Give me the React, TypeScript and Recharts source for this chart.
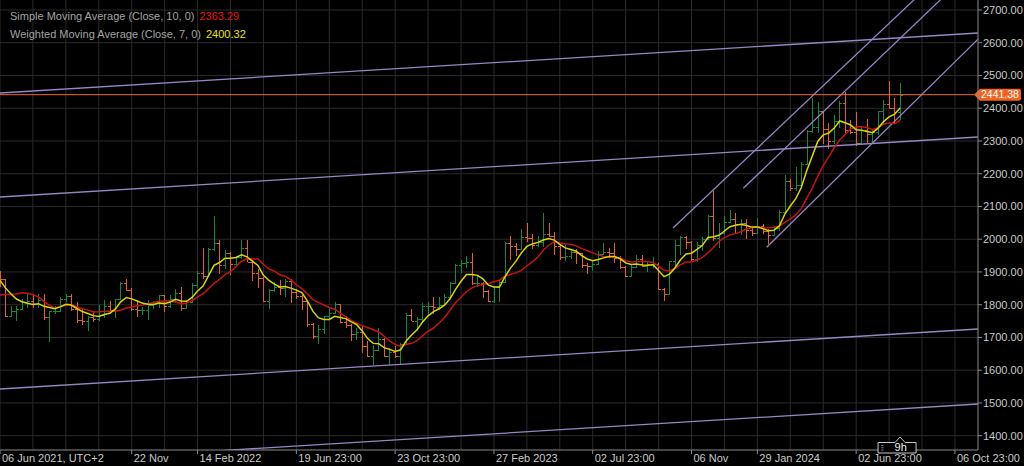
import React from "react";
import { ComposedChart, Bar, Line, XAxis, YAxis, CartesianGrid, ReferenceLine } from "recharts";

const FONT = "'Liberation Sans', Arial, sans-serif";

// Weekly XAU bars, week 0 = week of 06 Jun 2021
const priorCloses = [1744, 1777, 1777, 1769, 1831, 1843, 1881, 1902, 1892];

const open = [
  1892, 1877, 1764, 1781, 1787, 1808, 1812, 1802, 1814, 1763,
  1780, 1781, 1817, 1827, 1788, 1754, 1750, 1761, 1757, 1768,
  1796, 1783, 1818, 1865, 1846, 1788, 1783, 1783, 1798, 1809,
  1829, 1797, 1817, 1835, 1791, 1807, 1859, 1898, 1889, 1970,
  1989, 1921, 1958, 1925, 1946, 1974, 1931, 1896, 1883, 1811,
  1846, 1853, 1851, 1871, 1840, 1827, 1811, 1742, 1703, 1727,
  1766, 1775, 1802, 1747, 1738, 1712, 1717, 1675, 1644, 1661,
  1695, 1644, 1657, 1644, 1681, 1769, 1751, 1755, 1797, 1797,
  1793, 1798, 1824, 1865, 1920, 1926, 1929, 1865, 1865, 1842,
  1811, 1856, 1868, 1989, 1978, 1969, 2007, 2004, 1983, 1990,
  2017, 2011, 1978, 1946, 1948, 1961, 1958, 1921, 1919, 1925,
  1955, 1962, 1959, 1942, 1914, 1889, 1915, 1940, 1919, 1924,
  1925, 1849, 1833, 1932, 1981, 2006, 1993, 1940, 1981, 2002,
  2072, 2004, 2019, 2053, 2062, 2045, 2049, 2029, 2018, 2039,
  2024, 2013, 2035, 2083, 2179, 2155, 2165, 2230, 2330, 2344,
  2392, 2337, 2301, 2360, 2415, 2333, 2327, 2294, 2332.15, 2322,
  2326, 2391, 2411.85, 2400, 2387.5,
];

const high = [
  1903, 1877, 1795, 1795, 1818, 1834, 1833, 1832, 1832, 1782,
  1795, 1823, 1834, 1834, 1809, 1787, 1764, 1781, 1800, 1813,
  1810, 1818, 1869, 1877, 1850, 1808, 1794, 1815, 1812, 1831,
  1831, 1829, 1848, 1853, 1815, 1865, 1902, 1974, 1974, 2070,
  1999, 1966, 1960, 1949, 1998, 1998, 1936, 1910, 1884, 1849,
  1870, 1874, 1877, 1879, 1847, 1830, 1814, 1744, 1739, 1767,
  1788, 1807, 1802, 1765, 1740, 1729, 1735, 1688, 1676, 1730,
  1697, 1669, 1675, 1684, 1774, 1786, 1762, 1804, 1809, 1825,
  1823, 1833, 1870, 1923, 1937, 1949, 1959, 1890, 1870, 1846,
  1858, 1871, 1993, 2009, 1987, 2032, 2049, 2015, 2009, 2079,
  2048, 2022, 1985, 1983, 1971, 1971, 1959, 1926, 1935, 1963,
  1987, 1973, 1987, 1949, 1917, 1923, 1953, 1953, 1932, 1947,
  1926, 1850, 1933, 1997, 2009, 2009, 1995, 1993, 2007, 2075,
  2146, 2048, 2071, 2088, 2079, 2062, 2062, 2036, 2065, 2045,
  2030, 2041, 2088, 2195, 2185, 2222, 2236, 2332, 2431, 2418,
  2392, 2354, 2378, 2422, 2450, 2364, 2388, 2342, 2368, 2338,
  2392, 2424, 2484, 2432, 2477,
];

const low = [
  1855, 1761, 1761, 1750, 1783, 1791, 1789, 1791, 1753, 1687,
  1772, 1778, 1808, 1782, 1745, 1737, 1721, 1746, 1750, 1760,
  1772, 1758, 1815, 1842, 1780, 1761, 1768, 1753, 1788, 1789,
  1778, 1791, 1805, 1780, 1788, 1806, 1851, 1878, 1889, 1965,
  1895, 1910, 1890, 1915, 1940, 1929, 1872, 1850, 1807, 1787,
  1840, 1829, 1825, 1805, 1817, 1785, 1732, 1695, 1681, 1711,
  1754, 1772, 1745, 1728, 1688, 1691, 1654, 1639, 1615, 1660,
  1640, 1617, 1638, 1616, 1676, 1749, 1727, 1745, 1765, 1773,
  1785, 1795, 1823, 1862, 1896, 1912, 1861, 1853, 1819, 1809,
  1805, 1809, 1865, 1935, 1949, 1966, 1992, 1969, 1975, 1977,
  2007, 1952, 1936, 1932, 1940, 1925, 1911, 1893, 1902, 1922,
  1953, 1942, 1928, 1910, 1885, 1884, 1913, 1914, 1901, 1913,
  1846, 1810, 1831, 1909, 1953, 1971, 1932, 1931, 1965, 1999,
  1995, 1973, 2016, 2050, 2017, 2013, 2001, 2010, 2017, 2015,
  1984, 2011, 2025, 2078, 2146, 2146, 2163, 2228, 2325, 2324,
  2291, 2277, 2291, 2340, 2325, 2321, 2286, 2293, 2295, 2293,
  2318, 2352, 2398, 2353, 2365,
];

const close = [
  1877, 1764, 1781, 1787, 1808, 1812, 1802, 1814, 1763, 1780,
  1781, 1817, 1827, 1788, 1754, 1750, 1761, 1757, 1768, 1796,
  1783, 1818, 1865, 1846, 1788, 1783, 1783, 1798, 1809, 1829,
  1797, 1817, 1835, 1791, 1807, 1859, 1898, 1889, 1970, 1989,
  1921, 1958, 1925, 1946, 1974, 1931, 1896, 1883, 1811, 1846,
  1853, 1851, 1871, 1840, 1827, 1811, 1742, 1703, 1727, 1766,
  1775, 1802, 1747, 1738, 1712, 1717, 1675, 1644, 1661, 1695,
  1644, 1657, 1644, 1681, 1769, 1751, 1755, 1797, 1797, 1793,
  1798, 1824, 1865, 1920, 1926, 1929, 1865, 1865, 1842, 1811,
  1856, 1868, 1989, 1978, 1969, 2007, 2004, 1983, 1990, 2017,
  2011, 1978, 1946, 1948, 1961, 1958, 1921, 1919, 1925, 1955,
  1962, 1959, 1942, 1914, 1889, 1915, 1940, 1919, 1924, 1925,
  1849, 1833, 1932, 1981, 2006, 1993, 1940, 1981, 2002, 2072,
  2004, 2019, 2053, 2062, 2045, 2049, 2029, 2018, 2039, 2024,
  2013, 2035, 2083, 2179, 2155, 2165, 2230, 2330, 2344, 2392,
  2337, 2301, 2360, 2415, 2333, 2327, 2294, 2332.15, 2322, 2326,
  2391, 2411.85, 2400, 2387.5, 2441.38,
];

const xTickWeeks = [0, 24, 36, 54, 72, 90, 108, 126, 138, 156, 174];
const xTickLabels = [
  "06 Jun 2021, UTC+2", "22 Nov", "14 Feb 2022", "19 Jun 23:00", "23 Oct 23:00",
  "27 Feb 2023", "02 Jul 23:00", "06 Nov", "29 Jan 2024", "02 Jun 23:00", "06 Oct 23:00",
];
const gridWeeks = [0, 6, 12, 18, 24, 30, 36, 42, 48, 54, 60, 66, 72, 78, 84, 90, 96, 102, 108, 114, 120, 126, 132, 138, 144, 150, 156, 162, 168, 174];
const priceTicks = [1400, 1500, 1600, 1700, 1800, 1900, 2000, 2100, 2200, 2300, 2400, 2500, 2600, 2700];

// drawn trend lines: [week, price] start and end
const trendFrom = [[0, 2446.5], [0, 2128.9], [0, 1542.6], [0, 1312.7], [122.63, 2034.3], [135.44, 2155.5], [139.7, 1975.3]];
const trendTo = [[178.2, 2629.8], [178.2, 2312.2], [178.2, 1725.8], [178.2, 1496.8], [170.88, 2800], [175.65, 2800], [178.2, 2610.8]];

const countdownLabel = "9h";

const UP = "#158a3c";
const DOWN = "#e2622a";
const SMA_COLOR = "#c41414";
const WMA_COLOR = "#d8d800";
const TREND = "#9884c6";
const GRID = "#2a2a2a";
const AXIS = "#8a8a8a";

const allCloses = [...priorCloses, ...close];
const P = priorCloses.length;
const sma10 = close.map((_, k) => {
  let s = 0;
  for (let t = 0; t < 10; t++) s += allCloses[P + k - t];
  return s / 10;
});
const wma7 = close.map((_, k) => {
  let s = 0;
  for (let t = 0; t < 7; t++) s += allCloses[P + k - t] * (7 - t);
  return s / 28;
});

const rows = close.map((c, i) => ({ i, o: open[i], h: high[i], l: low[i], c, sma: sma10[i], wma: wma7[i] }));
const last = close.length - 1;
const axisTicks = [...xTickWeeks, last];

const OhlcShape = (props: any) => {
  const { x, y, width, height, payload } = props;
  if (!payload || x == null || y == null) return null;
  const { o, h, l, c } = payload;
  const top = Math.min(y, y + height);
  const hh = Math.abs(height);
  const span = h - l || 1;
  const yAt = (v: number) => top + ((h - v) / span) * hh;
  const cx = Math.round(x + width / 2) + 0.5;
  const color = c >= o ? UP : DOWN;
  return (
    <g stroke={color} strokeWidth={1} shapeRendering="crispEdges">
      <line x1={cx} x2={cx} y1={top} y2={top + hh} />
      <line x1={cx - 2.5} x2={cx} y1={Math.round(yAt(o)) + 0.5} y2={Math.round(yAt(o)) + 0.5} />
      <line x1={cx} x2={cx + 2.5} y1={Math.round(yAt(c)) + 0.5} y2={Math.round(yAt(c)) + 0.5} />
    </g>
  );
};

const CountdownTag = ({ cx, bottom }: { cx: number; bottom: number }) => {
  const top = bottom - 10.5;
  return (
    <g>
      <path
        d={`M${cx - 22},${top} H${cx - 5} L${cx},${top - 5.5} L${cx + 5},${top} H${cx + 16} V${bottom} H${cx - 22} Z`}
        fill="#000"
        stroke="#c8c8c8"
        strokeWidth={1}
      />
      <g stroke="#9a9a9a" strokeWidth={0.8}>
        <line x1={cx - 19} x2={cx - 16.5} y1={top + 3} y2={top + 3} />
        <line x1={cx - 19} x2={cx - 16.5} y1={top + 5.3} y2={top + 5.3} />
        <line x1={cx - 19} x2={cx - 16.5} y1={top + 7.6} y2={top + 7.6} />
      </g>
      <text x={cx - 5.5} y={bottom - 1.8} fill="#f0f0f0" fontSize={11} fontFamily={FONT}>
        {countdownLabel}
      </text>
    </g>
  );
};

const XTick = (props: any) => {
  const { x, y, payload } = props;
  if (payload?.value === last) {
    return <CountdownTag cx={x} bottom={y - 3} />;
  }
  const idx = xTickWeeks.indexOf(payload?.value);
  return (
    <text x={x + 2} y={y + 6} fill="#c9c9c9" fontSize={11} fontFamily={FONT} textAnchor="start">
      {idx >= 0 ? xTickLabels[idx] : ""}
    </text>
  );
};

const PriceTag = (props: any) => {
  const vb = props.viewBox ?? props;
  if (!vb || vb.x == null) return null;
  const base = vb.x + vb.width;
  const yc = vb.y;
  return (
    <g>
      <path
        d={`M${base - 4},${yc} L${base + 2},${yc - 6} H${base + 41} Q${base + 43},${yc - 6} ${base + 43},${yc - 4} V${yc + 4} Q${base + 43},${yc + 6} ${base + 41},${yc + 6} H${base + 2} Z`}
        fill="#f0641f"
      />
      <text x={base + 3} y={yc + 3.8} fill="#ffffff" fontSize={10.5} fontFamily={FONT}>
        {close[last].toFixed(2)}
      </text>
    </g>
  );
};

export default function App() {
  return (
    <div style={{ position: "absolute", left: 0, top: 0, width: 1024, height: 466, background: "#000", overflow: "hidden" }}>
      <ComposedChart width={1024} height={466} data={rows} margin={{ top: 0, right: 0, bottom: 0, left: 0 }}>
        <CartesianGrid stroke={GRID} verticalValues={gridWeeks} horizontalValues={priceTicks} />
        <XAxis
          dataKey="i"
          type="number"
          domain={[0, 178.2]}
          allowDataOverflow
          ticks={axisTicks}
          interval={0}
          tick={<XTick />}
          tickSize={4}
          tickMargin={2}
          tickLine={{ stroke: AXIS }}
          axisLine={{ stroke: AXIS }}
          height={16}
        />
        <YAxis
          orientation="right"
          type="number"
          width={46}
          domain={[1356.3, 2730.5]}
          allowDataOverflow
          ticks={priceTicks}
          interval={0}
          tickFormatter={(v: number) => v.toFixed(2)}
          tick={{ fill: "#c9c9c9", fontSize: 11, fontFamily: FONT }}
          tickSize={4}
          tickMargin={1}
          tickLine={{ stroke: AXIS }}
          axisLine={{ stroke: AXIS }}
        />
        {trendFrom.map((a, k) => (
          <ReferenceLine
            key={"t" + k}
            segment={[{ x: a[0], y: a[1] }, { x: trendTo[k][0], y: trendTo[k][1] }]}
            stroke={TREND}
            strokeWidth={1.3}
            ifOverflow="hidden"
          />
        ))}
        <Bar dataKey={(d: any) => [d.l, d.h]} barSize={5} shape={<OhlcShape />} isAnimationActive={false} />
        <Line dataKey="sma" type="linear" stroke={SMA_COLOR} strokeWidth={1.5} dot={false} activeDot={false} isAnimationActive={false} />
        <Line dataKey="wma" type="linear" stroke={WMA_COLOR} strokeWidth={1.5} dot={false} activeDot={false} isAnimationActive={false} />
        <ReferenceLine y={close[last]} stroke="#f26a21" strokeWidth={1} label={(p: any) => <PriceTag {...p} />} />
      </ComposedChart>
      <div style={{ position: "absolute", left: 10, top: 7, fontFamily: FONT, fontSize: 11, lineHeight: "18px", color: "#a3a3a3", whiteSpace: "nowrap" }}>
        Simple Moving Average (Close, 10, 0)
        <span style={{ color: "#e8141c", marginLeft: 5 }}>{sma10[last].toFixed(2)}</span>
      </div>
      <div style={{ position: "absolute", left: 10, top: 25, fontFamily: FONT, fontSize: 11, lineHeight: "18px", color: "#a3a3a3", whiteSpace: "nowrap" }}>
        Weighted Moving Average (Close, 7, 0)
        <span style={{ color: "#e6e600", marginLeft: 5 }}>{wma7[last].toFixed(2)}</span>
      </div>
    </div>
  );
}
